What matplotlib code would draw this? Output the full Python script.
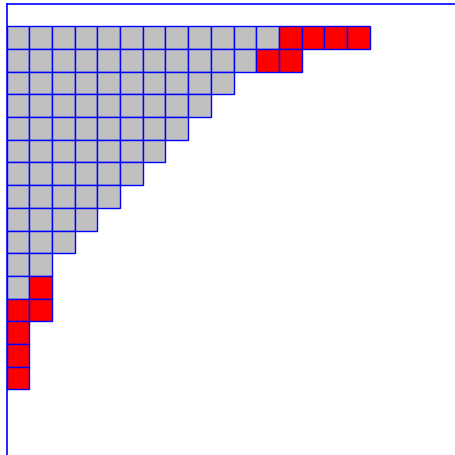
import matplotlib
matplotlib.use("Agg")
import matplotlib.pyplot as plt
from matplotlib.patches import Rectangle

# Outer partition (row lengths) and inner partition (gray part)
outer = [16, 13, 10, 9, 8, 7, 6, 5, 4, 3, 2, 2, 2, 1, 1, 1]
inner = [12, 11, 10, 9, 8, 7, 6, 5, 4, 3, 2, 1, 0, 0, 0, 0]
inner_color = "#c0c0c0"
skew_color = "#ff0000"
edge_color = "#0000ff"

W, H = 455, 456
fig = plt.figure(figsize=(W / 100, H / 100), dpi=100)
cell = 22.7
x0_px, y0_px = 6.5, 4.5
ax = fig.add_axes([x0_px / W, 0, 1 - x0_px / W, 1 - y0_px / H])
ax.set_xlim(0, (W - x0_px) / cell)
ax.set_ylim((H - y0_px) / cell - 1, -1)

for r, (o, i) in enumerate(zip(outer, inner)):
    for c in range(o):
        fc = inner_color if c < i else skew_color
        ax.add_patch(Rectangle((c, r), 1, 1, facecolor=fc, edgecolor=edge_color, linewidth=1.0))

for s in ["right", "bottom"]:
    ax.spines[s].set_visible(False)
for s in ["top", "left"]:
    ax.spines[s].set_color(edge_color)
    ax.spines[s].set_linewidth(1.2)
ax.set_xticks([])
ax.set_yticks([])
fig.savefig("out.png", dpi=100)
